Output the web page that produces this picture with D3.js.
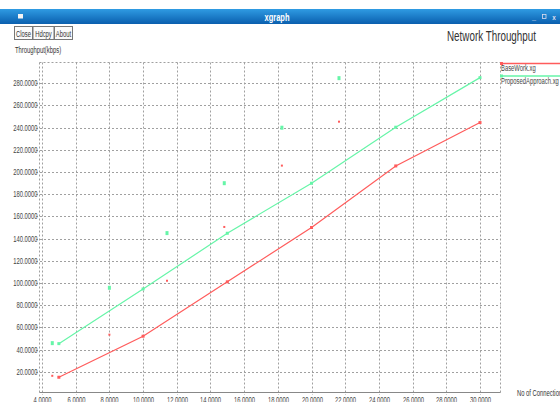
<!DOCTYPE html>
<html>
<head>
<meta charset="utf-8">
<script src="https://cdn.jsdelivr.net/npm/d3@7"></script>
<style>
  html, body { margin: 0; padding: 0; background: #fff; }
  svg { display: block; font-family: "Liberation Sans", Arial, sans-serif; }
</style>
</head>
<body>
<svg id="chart" width="560" height="402"></svg>
<script>
// ---- data ----
const xValues = [5, 10, 15, 20, 25, 30];
const baseWork = [15, 52, 101, 150, 205.5, 244.6];
const proposedApproach = [45.3, 94.6, 144.8, 189.9, 240.4, 285.1];
// stray markers in each data file (not joined by the line)
const extraX = [4.61, 8.0, 11.42, 14.82, 18.24, 21.63];
const baseWorkExtra = [16.3, 53.4, 102, 150.5, 205.8, 245.4];
const proposedExtra = [46.2, 96.1, 145.4, 190.4, 240.4, 285.1];
const seriesNames = ["BaseWork.xg", "ProposedApproach.xg"];
const xTicks = [4, 6, 8, 10, 12, 14, 16, 18, 20, 22, 24, 26, 28, 30];
const yTicks = [20, 40, 60, 80, 100, 120, 140, 160, 180, 200, 220, 240, 260, 280];
const chartTitle = "Network Throughput";
const yAxisTitle = "Throughput(kbps)";
const xAxisTitle = "No of Connections";
const buttons = ["Close", "Hdcpy", "About"];

const RED = "#ff5c5c", GREEN = "#66f5a8";
const SX = 0.65; // xgraph narrow font

const svg = d3.select("#chart");

// condensed text helper
function ctext(g, str, x, y, size, anchor, fill, weight, sx) {
  sx = sx || SX;
  return g.append("text")
    .attr("transform", `translate(${x},${y}) scale(${sx},1)`)
    .attr("text-anchor", anchor || "start")
    .attr("font-size", size)
    .attr("font-weight", weight || "normal")
    .attr("fill", fill || "#222")
    .text(str);
}

// ---- window chrome ----
const defs = svg.append("defs");
const grad = defs.append("linearGradient").attr("id", "tb").attr("x1", 0).attr("y1", 0).attr("x2", 0).attr("y2", 1);
grad.append("stop").attr("offset", "0%").attr("stop-color", "#2f9be3");
grad.append("stop").attr("offset", "100%").attr("stop-color", "#0a5fae");
svg.append("rect").attr("x", 0).attr("y", 9).attr("width", 560).attr("height", 15).attr("fill", "url(#tb)");
svg.append("rect").attr("x", 18).attr("y", 14).attr("width", 5).attr("height", 4.5).attr("fill", "#f4f4f4");
ctext(svg, "xgraph", 277, 20.5, 10, "middle", "#fff", "bold", 0.75);
ctext(svg, "_", 534, 19.5, 9, "middle", "#dde", "bold", 0.8);
svg.append("rect").attr("x", 542.5).attr("y", 14.5).attr("width", 3.5).attr("height", 4).attr("fill", "none").attr("stroke", "#dde").attr("stroke-width", 0.8);
ctext(svg, "x", 554, 20, 8, "middle", "#dde", "bold", 0.8);

// buttons
const btnX = [14, 32.5, 54];
const btnW = [18, 21, 18];
buttons.forEach((b, i) => {
  svg.append("rect").attr("x", btnX[i] + 0.5).attr("y", 26.5).attr("width", btnW[i]).attr("height", 13)
    .attr("fill", "#fafafa").attr("stroke", "#777").attr("stroke-width", 1);
  ctext(svg, b, btnX[i] + 0.5 + btnW[i] / 2, 36.5, 9, "middle", "#333");
});

// ---- scales ----
const x = d3.scaleLinear().domain([3.822, 31.229]).range([39, 500.7]);
const y = d3.scaleLinear().domain([1.43, 298.93]).range([392.3, 62.3]);

// titles
ctext(svg, chartTitle, 536, 41, 14.5, "end", "#333", "normal", 0.68);
ctext(svg, yAxisTitle, 15, 52.5, 9, "start", "#333");
ctext(svg, xAxisTitle, 517, 395.5, 9, "start", "#333");

// ---- grid / frame ----
const grid = svg.append("g").attr("stroke", "#a0a0a0").attr("stroke-width", 1).attr("stroke-dasharray", "2,2").attr("fill", "none");
grid.selectAll("line.v").data(xTicks).join("line")
  .attr("x1", d => Math.round(x(d)) + 0.5).attr("x2", d => Math.round(x(d)) + 0.5)
  .attr("y1", 62.5).attr("y2", 395);
grid.selectAll("line.h").data(yTicks).join("line")
  .attr("y1", d => Math.round(y(d)) + 0.5).attr("y2", d => Math.round(y(d)) + 0.5)
  .attr("x1", 36).attr("x2", 500.5);
// frame
grid.append("line").attr("x1", 39.5).attr("x2", 39.5).attr("y1", 62.5).attr("y2", 392.5);
grid.append("line").attr("x1", 500.5).attr("x2", 500.5).attr("y1", 62.5).attr("y2", 392.5);
grid.append("line").attr("x1", 39.5).attr("x2", 500.5).attr("y1", 62.5).attr("y2", 62.5);
svg.append("line").attr("x1", 39.5).attr("x2", 500.5).attr("y1", 392.5).attr("y2", 392.5)
  .attr("stroke", "#888").attr("stroke-width", 1);

// tick labels
const fmt = d3.format(".4f");
const yl = svg.append("g");
yTicks.forEach(t => ctext(yl, fmt(t), 37.5, Math.round(y(t)) + 3.3, 9, "end", "#444"));
const xl = svg.append("g");
xTicks.forEach(t => ctext(xl, fmt(t), Math.round(x(t)) + 0.5, 402.5, 9, "middle", "#444"));

// ---- series ----
const series = [
  { name: seriesNames[0], vals: baseWork, extra: baseWorkExtra, color: RED, ms: 2 },
  { name: seriesNames[1], vals: proposedApproach, extra: proposedExtra, color: GREEN, ms: 3 }
];
const line = d3.line().x(d => x(d[0])).y(d => y(d[1]));
series.forEach(s => {
  const pts = xValues.map((xv, i) => [xv, s.vals[i]]);
  svg.append("path").attr("d", line(pts)).attr("fill", "none")
    .attr("stroke", s.color).attr("stroke-width", 1.2);
  svg.append("g").selectAll("rect").data(pts).join("rect")
    .attr("x", d => x(d[0]) - 1.5).attr("y", d => y(d[1]) - 1.5)
    .attr("width", 3).attr("height", 3).attr("fill", s.color);
  const ex = extraX.map((xv, i) => [xv, s.extra[i]]);
  svg.append("g").selectAll("rect").data(ex).join("rect")
    .attr("x", d => x(d[0]) - s.ms / 2).attr("y", d => y(d[1]) - s.ms / 2)
    .attr("width", s.ms).attr("height", s.ms + (s.ms > 2 ? 1 : 0)).attr("fill", s.color);
});

// ---- legend ----
const legY = [63.5, 76];
series.forEach((s, i) => {
  svg.append("line").attr("x1", 500.5).attr("x2", 560).attr("y1", legY[i]).attr("y2", legY[i])
    .attr("stroke", s.color).attr("stroke-width", 1.5);
  svg.append("rect").attr("x", 500).attr("y", legY[i] - 1.5).attr("width", 3).attr("height", 3).attr("fill", s.color);
  ctext(svg, s.name, 501, legY[i] + 7.5, 9, "start", "#444");
});
</script>
</body>
</html>
